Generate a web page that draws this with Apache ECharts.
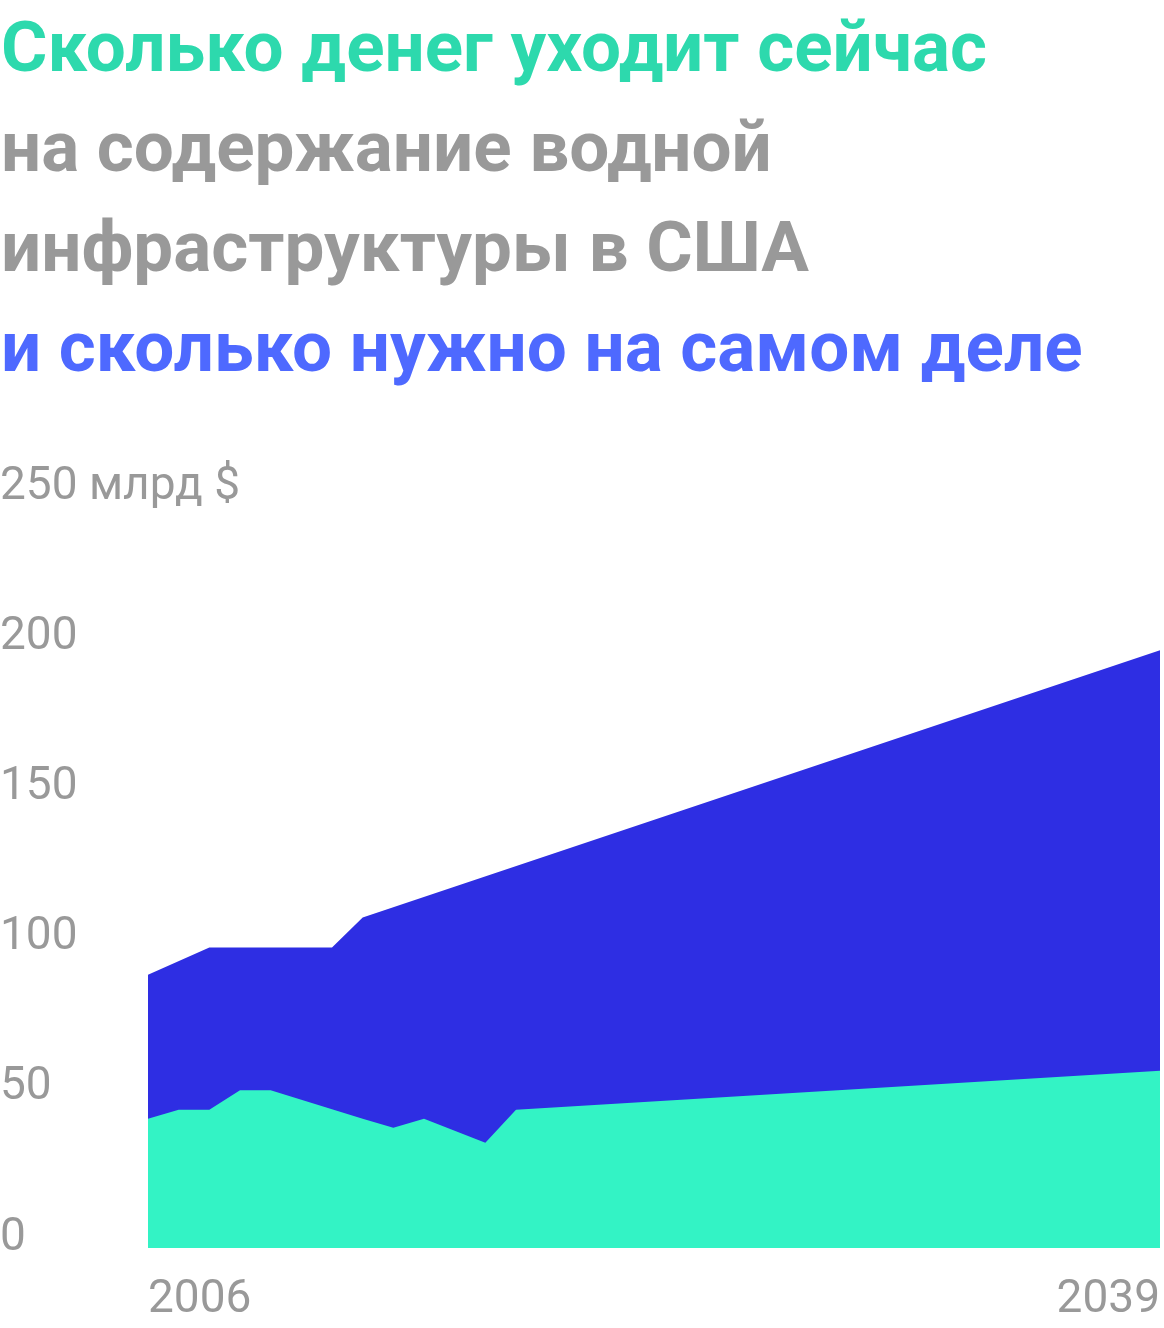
<!DOCTYPE html>
<html>
<head>
<meta charset="utf-8">
<script src="https://cdn.jsdelivr.net/npm/echarts@6/dist/echarts.min.js"></script>
<style>
  html, body { margin: 0; padding: 0; background: #fff; }
  #main { width: 1164px; height: 1328px; }
</style>
</head>
<body>
<div id="main"></div>
<script>
// title lines and their colours
var titleLines = [
    'Сколько денег уходит сейчас',
    'на содержание водной',
    'инфраструктуры в США',
    'и сколько нужно на самом деле'
];
var titleColors = ['#2dd9ad', '#999999', '#999999', '#4e69ff'];

// how much is really needed, bn $
var needYears = [2006, 2008, 2012, 2013, 2039];
var needValues = [91, 100, 100, 110, 199];

// how much is spent now, bn $
var spendYears = [2006, 2007, 2008, 2009, 2010, 2013, 2014, 2015, 2017, 2018, 2039];
var spendValues = [43, 46, 46, 52.5, 52.5, 43, 40, 43, 35, 46, 59];

// axis labels
var xLabels = [2006, 2039];
var yMax = 250;
var yStep = 50;
var yUnit = ' млрд $';

function pairs(xs, ys){
    var out = [];
    for (var i = 0; i < xs.length; i++) {
        out.push([xs[i], ys[i]]);
    }
    return out;
}

var myChart = echarts.init(document.getElementById('main'));

var titles = [];
for (var i = 0; i < titleLines.length; i++) {
    titles.push({
        text: titleLines[i],
        left: -4,
        top: 13 + i * 100,
        textStyle: {
            fontFamily: 'Roboto',
            fontSize: 71,
            fontWeight: 'bold',
            color: titleColors[i]
        }
    });
}

var option = {
    animation: false,
    title: titles,
    grid: {
        left: 148,
        right: 4,
        top: 497,
        bottom: 80,
        outerBoundsMode: 'none'
    },
    xAxis: {
        type: 'value',
        min: xLabels[0],
        max: xLabels[xLabels.length - 1],
        axisLine: { show: false },
        axisTick: { show: false },
        splitLine: { show: false },
        axisLabel: {
            customValues: xLabels,
            alignMinLabel: 'left',
            alignMaxLabel: 'right',
            margin: 29,
            fontFamily: 'Roboto',
            fontSize: 46,
            color: '#999999',
            formatter: function(v){ return String(v); }
        }
    },
    yAxis: {
        type: 'value',
        min: 0,
        max: yMax,
        interval: yStep,
        axisLine: { show: false },
        axisTick: { show: false },
        splitLine: { show: false },
        axisLabel: {
            align: 'left',
            verticalAlign: 'bottom',
            lineHeight: 20,
            margin: 148,
            fontFamily: 'Roboto',
            fontSize: 46,
            color: '#999999',
            formatter: function(v){
                return v === yMax ? v + yUnit : String(v);
            }
        }
    },
    series: [
        {
            name: 'Нужно',
            type: 'line',
            data: pairs(needYears, needValues),
            symbol: 'none',
            lineStyle: { width: 0 },
            areaStyle: { color: '#2e2ee3', opacity: 1 },
            z: 1
        },
        {
            name: 'Сейчас',
            type: 'line',
            data: pairs(spendYears, spendValues),
            symbol: 'none',
            lineStyle: { width: 0 },
            areaStyle: { color: '#33f3c5', opacity: 1 },
            z: 2
        }
    ]
};

myChart.setOption(option);
</script>
</body>
</html>
